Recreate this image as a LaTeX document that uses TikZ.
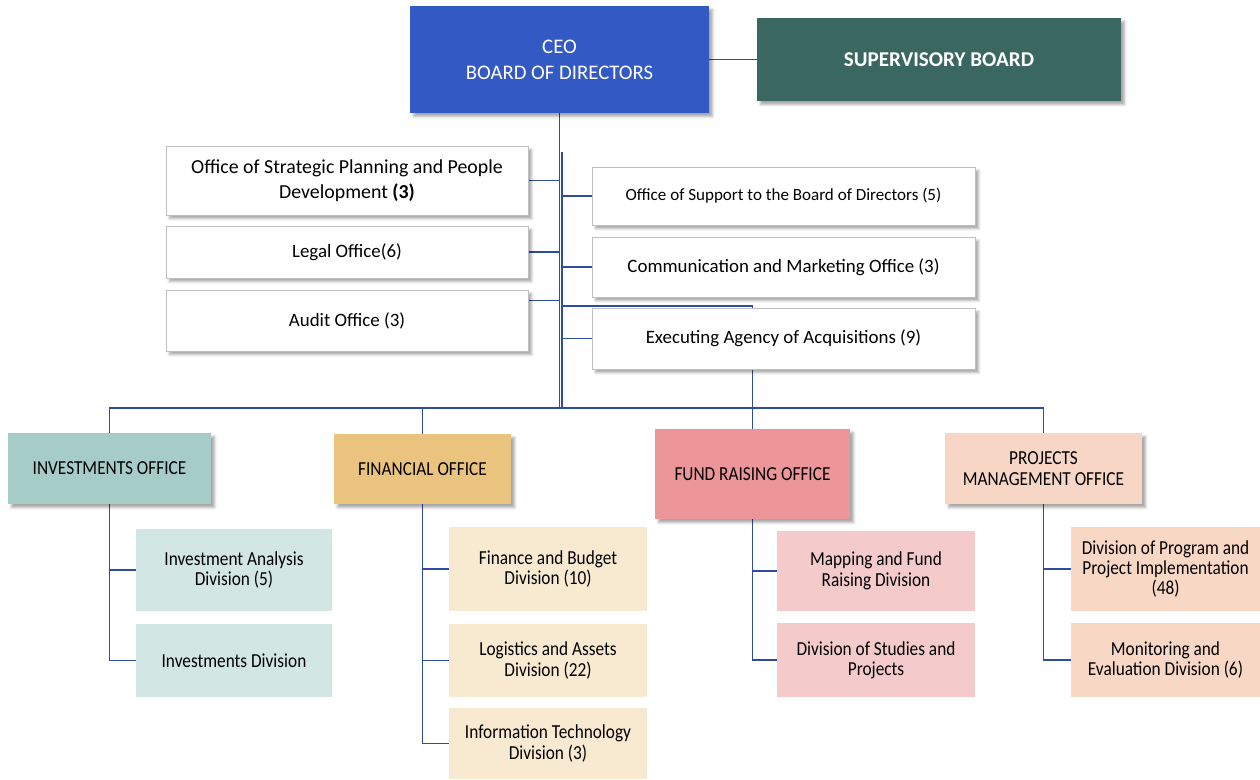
\documentclass[tikz,border=0pt]{standalone}
\usepackage{fontspec}
\setmainfont{Carlito}
\newfontfamily\narrowfont{Carlito}[FakeStretch=0.87]
\usetikzlibrary{shadows.blur,backgrounds}
\definecolor{ceoblue}{RGB}{51,89,196}
\definecolor{boardgreen}{RGB}{58,104,96}
\definecolor{linkblue}{RGB}{46,76,160}
\definecolor{invhead}{RGB}{166,204,199}
\definecolor{invdiv}{RGB}{210,230,227}
\definecolor{finhead}{RGB}{234,196,126}
\definecolor{findiv}{RGB}{248,234,208}
\definecolor{fundhead}{RGB}{236,150,153}
\definecolor{funddiv}{RGB}{244,202,203}
\definecolor{projhead}{RGB}{248,214,198}
\definecolor{projdiv}{RGB}{249,215,197}

\begin{document}
\begin{tikzpicture}[x=0.02cm,y=-0.02cm,
  every node/.style={align=center,inner sep=1pt},
  boxsize/.style 2 args={minimum width=#1,minimum height=#2},
  shade/.style={blur shadow={shadow xshift=2pt,shadow yshift=-2pt,shadow blur radius=1.5pt,shadow opacity=35}},
  top/.style={fill=#1,text=white,shade},
  office/.style={draw=black!25,fill=white,shade,font=\fontsize{10.75}{14.2}\selectfont},
  head/.style={fill=#1,shade,font=\narrowfont\fontsize{11.3}{11.6}\selectfont},
  unit/.style={fill=#1,font=\narrowfont\fontsize{11.3}{11.6}\selectfont},
  link/.style={draw=linkblue,line width=1.1pt}]
\useasboundingbox (0,0) rectangle (1260,780);

\node[top=ceoblue,  boxsize={5.98cm}{2.14cm},font=\fontsize{11.8}{14.7}\selectfont] (ceo)   at (559.5,59.5) {CEO\\BOARD OF DIRECTORS};
\node[top=boardgreen,boxsize={7.28cm}{1.66cm},font=\fontsize{12}{14}\selectfont] (board) at (939,59.5) {\textbf{SUPERVISORY BOARD}};

\node[office,boxsize={7.24cm}{1.38cm},font=\fontsize{11.3}{14.2}\selectfont] (left1) at (347,180.5) {Office of Strategic Planning and People\\Development \textbf{(3)}};
\node[office,boxsize={7.24cm}{1.04cm}] (left2) at (347,252)   {Legal Office(6)};
\node[office,boxsize={7.24cm}{1.22cm}] (left3) at (347,320.5) {Audit Office (3)};
\node[office,boxsize={7.66cm}{1.16cm},font=\fontsize{9.7}{12}\selectfont] (right1) at (783.5,196) {Office of Support to the Board of Directors (5)};
\node[office,boxsize={7.66cm}{1.20cm}] (right2) at (783.5,267)   {Communication and Marketing Office (3)};
\node[office,boxsize={7.66cm}{1.22cm}] (right3) at (783.5,338.5) {Executing Agency of Acquisitions (9)};

\node[head=invhead, boxsize={4.06cm}{1.42cm}] (inv)  at (109.5,468.5)  {INVESTMENTS OFFICE};
\node[head=finhead, boxsize={3.54cm}{1.40cm}] (fin)  at (422.5,469)    {FINANCIAL OFFICE};
\node[head=fundhead,boxsize={3.90cm}{1.80cm}] (fund) at (752.5,474)    {FUND RAISING OFFICE};
\node[head=projhead,boxsize={3.94cm}{1.42cm}] (proj) at (1043.5,468.5) {PROJECTS\\MANAGEMENT OFFICE};

\node[unit=invdiv, boxsize={3.92cm}{1.64cm}] (inv1)  at (234,570)    {Investment Analysis\\Division (5)};
\node[unit=invdiv, boxsize={3.92cm}{1.46cm}] (inv2)  at (234,660.5)  {Investments Division};
\node[unit=findiv, boxsize={3.96cm}{1.68cm}] (fin1)  at (548,569)    {Finance and Budget\\Division (10)};
\node[unit=findiv, boxsize={3.96cm}{1.46cm}] (fin2)  at (548,660.5)  {Logistics and Assets\\Division (22)};
\node[unit=findiv, boxsize={3.96cm}{1.42cm}] (fin3)  at (548,743.5)  {Information Technology\\Division (3)};
\node[unit=funddiv,boxsize={3.96cm}{1.60cm}] (fund1) at (876,571)    {Mapping and Fund\\Raising Division};
\node[unit=funddiv,boxsize={3.96cm}{1.48cm}] (fund2) at (876,660)    {Division of Studies and\\Projects};
\node[unit=projdiv,boxsize={3.78cm}{1.68cm}] (proj1) at (1165.5,569) {Division of Program and\\Project Implementation\\(48)};
\node[unit=projdiv,boxsize={3.78cm}{1.48cm}] (proj2) at (1165.5,660) {Monitoring and\\Evaluation Division (6)};

\coordinate (bus)   at (559,408);
\coordinate (split) at (562,152);

\begin{pgfonlayer}{background}
\draw[link] (ceo.east) -- (board.west);
\draw[link] (ceo.south) -- (ceo.south |- bus);
\draw[link] (split) -- (split |- bus);
\draw[link] (left1.east) -- (left1.east -| ceo.south);
\draw[link] (left2.east) -- (left2.east -| ceo.south);
\draw[link] ([yshift=0.4cm]left3.east) -- ([yshift=0.4cm]left3.east -| ceo.south);
\draw[link] (right1.west) -- (right1.west -| split);
\draw[link] (right2.west) -- (right2.west -| split);
\draw[link] (right3.west) -- (right3.west -| split);
\draw[link] ([yshift=0.04cm]right3.north -| split) -| (fund.north);
\draw[link] (inv.north) |- (bus) -| (proj.north);
\draw[link] (fin.north) -- (fin.north |- bus);
\draw[link] (inv.south) |- (inv2.west);
\draw[link] (inv1.west) -- (inv1.west -| inv.south);
\draw[link] (fin.south) |- (fin3.west);
\draw[link] (fin1.west) -- (fin1.west -| fin.south);
\draw[link] (fin2.west) -- (fin2.west -| fin.south);
\draw[link] (fund.south) |- (fund2.west);
\draw[link] (fund1.west) -- (fund1.west -| fund.south);
\draw[link] (proj.south) |- (proj2.west);
\draw[link] (proj1.west) -- (proj1.west -| proj.south);
\end{pgfonlayer}
\end{tikzpicture}
\end{document}
